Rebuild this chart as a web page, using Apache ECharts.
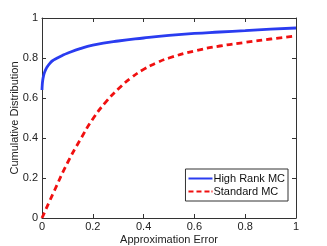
<!DOCTYPE html>
<html><head><meta charset="utf-8">
<script src="https://cdn.jsdelivr.net/npm/echarts@6/dist/echarts.min.js"></script>
<style>html,body{margin:0;padding:0;background:#fff}#c{width:327px;height:246px}</style>
</head><body><div id="c"></div>
<script>
var highX = [0, 0.001, 0.003, 0.006, 0.01, 0.015, 0.02, 0.03, 0.04, 0.06, 0.08, 0.1, 0.15, 0.2, 0.3, 0.4, 0.5, 0.6, 0.7, 0.8, 0.9, 1.0];
var highY = [0.64, 0.665, 0.69, 0.71, 0.728, 0.743, 0.755, 0.772, 0.785, 0.80, 0.813, 0.824, 0.847, 0.864, 0.885, 0.90, 0.913, 0.923, 0.93, 0.937, 0.944, 0.95];
var stdX = [0, 0.05, 0.1, 0.15, 0.2, 0.25, 0.3, 0.35, 0.4, 0.45, 0.5, 0.6, 0.7, 0.8, 0.9, 1.0];
var stdY = [0, 0.14, 0.275, 0.39, 0.495, 0.578, 0.645, 0.70, 0.743, 0.775, 0.80, 0.835, 0.86, 0.878, 0.895, 0.91];
var ticks = [0, 0.2, 0.4, 0.6, 0.8, 1];
function pairs(xs, ys){ return xs.map(function(x,i){return [x, ys[i]];}); }
var font = 'Liberation Sans, Arial, sans-serif';
var axCommon = {
  type: 'value', min: 0, max: 1, interval: 0.2,
  axisLine: {show: true, onZero: false, lineStyle: {color: '#333', width: 1}},
  axisTick: {show: true, inside: true, length: 4, lineStyle: {color: '#333'}},
  splitLine: {show: false}
};
function ax(extra){ return Object.assign({}, JSON.parse(JSON.stringify(axCommon)), extra); }
var chart = echarts.init(document.getElementById('c'));
chart.setOption({
  animation: false,
  grid: {left: 42, right: 31, top: 18, bottom: 28, containLabel: false, outerBoundsMode: 'none'},
  xAxis: [
    ax({position: 'bottom', name: 'Approximation Error', nameLocation: 'middle', nameGap: 16, nameMoveOverlap: false,
        nameTextStyle: {fontFamily: font, fontSize: 11, color: '#222'},
        axisLabel: {fontFamily: font, fontSize: 11, color: '#222', margin: 3}}),
    ax({position: 'top', axisLabel: {show: false}})
  ],
  yAxis: [
    ax({position: 'left', name: 'Cumulative Distribution', nameLocation: 'middle', nameGap: 22, nameMoveOverlap: false,
        nameTextStyle: {fontFamily: font, fontSize: 11, color: '#222'},
        axisLabel: {fontFamily: font, fontSize: 11, color: '#222', margin: 4}}),
    ax({position: 'right', axisLabel: {show: false}})
  ],
  legend: {
    right: 39, top: 169, orient: 'vertical', itemGap: 2, itemWidth: 24, itemHeight: 10,
    padding: [4, 3, 4, 3],
    borderColor: '#333', borderWidth: 1, backgroundColor: '#fff',
    textStyle: {fontFamily: font, fontSize: 11, color: '#111', padding: [0,0,0,-4]},
    data: [
      {name: 'High Rank MC', icon: 'path://M0,4 L24,4 L24,6 L0,6 Z', itemStyle: {color: '#2a3cf0'}},
      {name: 'Standard MC', icon: 'path://M0,4 L5,4 L5,6 L0,6 Z M8,4 L13,4 L13,6 L8,6 Z M16,4 L21,4 L21,6 L16,6 Z M23,4 L24,4 L24,6 L23,6 Z M0,0 L0.01,0 L0.01,10 L0,10 Z', itemStyle: {color: '#f01010'}}
    ]
  },
  series: [
    {name: 'High Rank MC', type: 'line', smooth: true, symbol: 'none', data: pairs(highX, highY),
     lineStyle: {color: '#2a3cf0', width: 2.8}, itemStyle: {color: '#2a3cf0'}},
    {name: 'Standard MC', type: 'line', smooth: true, symbol: 'none', data: pairs(stdX, stdY),
     lineStyle: {color: '#f01010', width: 2.8, type: [6, 4]}, itemStyle: {color: '#f01010'}}
  ]
});
</script></body></html>
